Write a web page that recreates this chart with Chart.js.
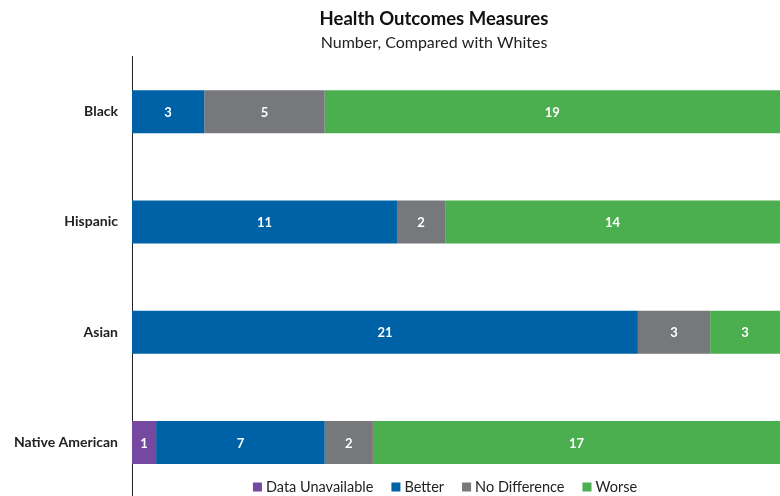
<!DOCTYPE html>
<html>
<head>
<meta charset="utf-8">
<script src="https://cdn.jsdelivr.net/npm/chart.js@4/dist/chart.umd.min.js"></script>
<style>
html,body{margin:0;padding:0;background:#fff;overflow:hidden;}
#wrap{position:relative;width:780px;height:496px;overflow:hidden;}
</style>
</head>
<body>
<div id="wrap"><canvas id="c" width="780" height="520"></canvas></div>
<script>
const categories = ["Black", "Hispanic", "Asian", "Native American"];
const dataUnavailable = [0, 0, 0, 1];
const better = [3, 11, 21, 7];
const noDifference = [5, 2, 3, 2];
const worse = [19, 14, 3, 17];
const seriesNames = ["Data Unavailable", "Better", "No Difference", "Worse"];
const colors = ["#7549A0", "#0062A6", "#77787B", "#4BAE4F"];
const titleText = "Health Outcomes Measures";
const subtitleText = "Number, Compared with Whites";
const FONT = "Lato, 'Open Sans', sans-serif";
const seriesData = [dataUnavailable, better, noDifference, worse];

const titles = {
  id: 'titles',
  afterDraw(chart) {
    const ctx = chart.ctx;
    ctx.save();
    ctx.textAlign = 'center';
    ctx.textBaseline = 'middle';
    ctx.fillStyle = '#111111';
    ctx.font = 'bold 18.5px ' + FONT;
    ctx.fillText(titleText, 434, 19);
    ctx.fillStyle = '#222222';
    ctx.font = '16px ' + FONT;
    ctx.fillText(subtitleText, 434, 43);
    ctx.restore();
  }
};

const valueLabels = {
  id: 'valueLabels',
  afterDatasetsDraw(chart) {
    const ctx = chart.ctx;
    ctx.save();
    ctx.fillStyle = '#ffffff';
    ctx.font = 'bold 13px ' + FONT;
    ctx.textAlign = 'center';
    ctx.textBaseline = 'middle';
    chart.data.datasets.forEach((ds, i) => {
      const meta = chart.getDatasetMeta(i);
      meta.data.forEach((bar, j) => {
        const v = ds.data[j];
        if (!v) return;
        const p = bar.getProps(['x', 'y', 'base'], true);
        ctx.fillText(String(v), (Math.min(p.x, chart.chartArea.right) + p.base) / 2, p.y + 1);
      });
    });
    ctx.restore();
  }
};

const customLegend = {
  id: 'customLegend',
  afterDraw(chart) {
    const ctx = chart.ctx;
    ctx.save();
    ctx.font = '14.5px ' + FONT;
    ctx.textBaseline = 'middle';
    const box = 9, gapBT = 4, gapItem = 18;
    const items = chart.data.datasets.map(d => ({ t: d.label, c: d.backgroundColor, w: ctx.measureText(d.label).width }));
    const total = items.reduce((s, it) => s + box + gapBT + it.w, 0) + gapItem * (items.length - 1);
    let x = 445 - total / 2;
    const y = 487;
    items.forEach(it => {
      ctx.fillStyle = it.c;
      ctx.fillRect(x, y - box / 2, box, box);
      x += box + gapBT;
      ctx.fillStyle = '#222222';
      ctx.textAlign = 'left';
      ctx.fillText(it.t, x, y + 0.5);
      x += it.w + gapItem;
    });
    ctx.restore();
  }
};

new Chart(document.getElementById('c'), {
  type: 'bar',
  data: {
    labels: categories,
    datasets: seriesNames.map((n, i) => ({
      label: n,
      data: seriesData[i],
      backgroundColor: colors[i],
      borderWidth: 0,
      barPercentage: 0.78,
      categoryPercentage: 0.5
    }))
  },
  options: {
    indexAxis: 'y',
    responsive: false,
    animation: false,
    layout: { padding: { left: 0, right: 0, top: 56.5, bottom: 0 } },
    scales: {
      x: { stacked: true, min: 0, max: 26.9, display: false },
      y: {
        stacked: true,
        grid: { display: false, drawTicks: false },
        border: { display: true, color: '#222222', width: 1 },
        ticks: { color: '#222222', padding: 14, font: { family: FONT, size: 14, weight: 'bold' } },
        afterFit(scale) { scale.width = 132; }
      }
    },
    plugins: {
      legend: { display: false },
      tooltip: { enabled: false },
      title: { display: false },
      subtitle: { display: false }
    }
  },
  plugins: [titles, valueLabels, customLegend]
});
</script>
</body>
</html>
